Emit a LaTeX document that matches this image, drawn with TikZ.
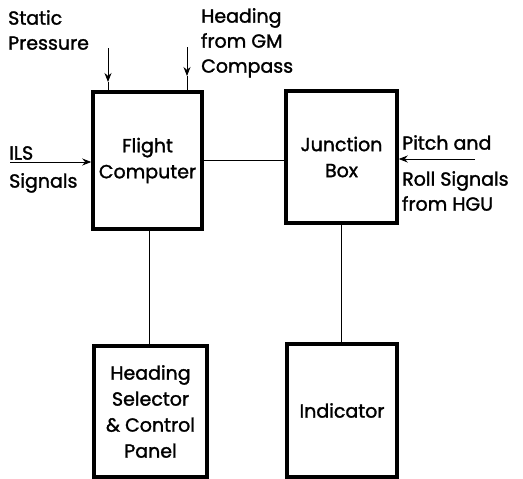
\documentclass[tikz,border=0pt]{standalone}
\usepackage{fontspec}
\setmainfont{Poppins}[UprightFeatures={FakeBold=1.5}]
\usetikzlibrary{arrows.meta}
\begin{document}
\begin{tikzpicture}[x=1pt,y=-1pt,
  blk/.style={draw,line width=3.5pt,inner sep=0pt,align=center,
    font=\fontsize{19}{26}\selectfont},
  lbl/.style={inner sep=0pt,font=\fontsize{19}{25}\selectfont},
  conn/.style={line width=0.8pt},
  arr/.style={line width=0.8pt,-{Stealth[length=9pt,width=7pt]}}]
\useasboundingbox (0,0) rectangle (523,479);
\node[blk,minimum width=109pt,minimum height=137pt] (fc) at (147.5,160.5) {Flight\\Computer};
\node[blk,minimum width=111pt,minimum height=132pt] (jb) at (341.5,157) {Junction\\Box};
\node[blk,minimum width=113pt,minimum height=131pt] (hs) at (150.5,411.5) {Heading\\Selector\\\& Control\\Panel};
\node[blk,minimum width=110pt,minimum height=133pt] (ind) at (342,410.5) {Indicator};
% labels
\node[lbl,anchor=north west,align=left] (sp) at (8,10) {Static\\Pressure};
\node[lbl,anchor=north west,align=left] (hg) at (201,8) {Heading\\from GM\\Compass};
\node[lbl,anchor=north west,align=left,font=\fontsize{19}{28}\selectfont] (ils) at (9,146) {ILS\\Signals};
\node[lbl,anchor=north west,align=left] (pr) at (402,135) {Pitch and\\[11pt]Roll Signals\\from HGU};
% connectors
\draw[conn] (fc.east) -- (fc.east -| jb.west);
\draw[conn] ([xshift=2pt]fc.south) -- ([xshift=2pt]fc.south |- hs.north);
\draw[conn] (jb.south) -- (jb.south |- ind.north);
% input arrows
\coordinate (spA) at (108,48);
\coordinate (spB) at (108,82);
\coordinate (hgA) at (187,47);
\coordinate (hgB) at (187,76);
\draw[arr] (spA) -- (spB);
\draw[conn] (spB) -- (spB |- fc.north);
\draw[arr] (hgA) -- (hgB);
\draw[conn] (hgB) -- (hgB |- fc.north);
\coordinate (ilsA) at (10,162);
\draw[arr] (ilsA) -- (ilsA -| fc.west);
\coordinate (prA) at (475,159);
\draw[arr] (prA) -- (prA -| jb.east);
\end{tikzpicture}
\end{document}
